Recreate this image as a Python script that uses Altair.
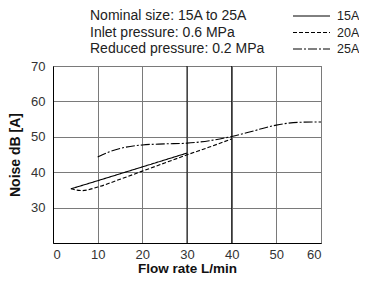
import altair as alt
import pandas as pd

# Data
x15 = [4, 10, 20, 30]
y15 = [35.3, 37.6, 41.5, 45.4]
x20 = [4, 6.5, 10, 15, 20, 25, 30, 35, 40]
y20 = [35.3, 34.8, 35.8, 38.0, 40.3, 42.6, 44.9, 47.1, 49.4]
x25 = [10, 12.5, 15, 20, 25, 30, 35, 40, 45, 50, 55, 60]
y25 = [44.3, 45.7, 46.7, 47.7, 48.0, 48.2, 48.9, 50.1, 51.7, 53.3, 54.1, 54.2]
series = ["15A", "20A", "25A"]
dashes = [[1, 0], [4, 2], [9, 2, 2, 2]]
info_lines = ["Nominal size: 15A to 25A", "Inlet pressure: 0.6 MPa", "Reduced pressure: 0.2 MPa"]
dark_grid_x = [30, 40]

FONT = "Liberation Sans"
W, H = 268, 177

df = pd.concat([
    pd.DataFrame({"x": x15, "y": y15, "s": "15A"}),
    pd.DataFrame({"x": x20, "y": y20, "s": "20A"}),
    pd.DataFrame({"x": x25, "y": y25, "s": "25A"}),
])

xs = alt.Scale(domain=[0, 60], nice=False)
ys = alt.Scale(domain=[20, 70], nice=False)

base = alt.Chart(df)

curves = base.mark_line(color="black", strokeWidth=1.1, interpolate="monotone").encode(
    x=alt.X("x:Q", scale=xs, title="Flow rate L/min",
            axis=alt.Axis(values=[0, 10, 20, 30, 40, 50, 60], grid=True, gridColor="#7a7a7a",
                          gridWidth=1, ticks=False, domainColor="black", labelPadding=5,
                          titlePadding=0, titleFontSize=13.5)),
    y=alt.Y("y:Q", scale=ys, title="Noise dB [A]",
            axis=alt.Axis(values=[20, 30, 40, 50, 60, 70], grid=True, gridColor="#7a7a7a",
                          gridWidth=1, ticks=False, domainColor="black", labelPadding=8,
                          labelExpr="datum.value == 20 ? '' : datum.label", titlePadding=8)),
    strokeDash=alt.StrokeDash("s:N", scale=alt.Scale(domain=series, range=dashes), legend=None),
    detail="s:N",
)

dark = alt.Chart(pd.DataFrame({"x": dark_grid_x})).mark_rule(color="#111", strokeWidth=1).encode(
    x=alt.X("x:Q", scale=xs)
)

row_scale = alt.Scale(domain=[0, 2], range=[-50, -17], nice=False, zero=False)

info_df = pd.DataFrame({"t": info_lines, "i": [0, 1, 2]})
info = alt.Chart(info_df).mark_text(align="left", baseline="middle", font=FONT, fontSize=14,
                                     color="#222").encode(
    text="t:N",
    x=alt.value(37),
    y=alt.Y("i:Q", scale=row_scale, axis=None),
)

leg_df = pd.DataFrame({"s": series, "i": [0, 1, 2]})
leg_y = alt.Y("i:Q", scale=row_scale, axis=None)
leg_lines = alt.Chart(leg_df).mark_rule(color="black", strokeWidth=1).encode(
    x=alt.value(240), x2=alt.value(277), y=leg_y,
    strokeDash=alt.StrokeDash("s:N", scale=alt.Scale(domain=series, range=dashes), legend=None),
)
leg_text = alt.Chart(leg_df).mark_text(align="left", baseline="middle", font=FONT, fontSize=12.5,
                                        color="#222").encode(
    text="s:N", x=alt.value(284), y=leg_y,
)

chart = alt.layer(dark, curves, info, leg_lines, leg_text).resolve_scale(y="independent").properties(
    width=W, height=H,
    autosize=alt.AutoSizeParams(type="none"),
    padding={"left": 45, "top": 58, "right": 38, "bottom": 31},
).configure_view(stroke="#555", strokeWidth=1).configure_axis(
    labelFont=FONT, titleFont=FONT, labelFontSize=13, titleFontSize=14,
    labelColor="#333", titleColor="#111", titleFontWeight="bold",
)

chart.save("out.html", embed_options={"renderer": "svg", "actions": False})
